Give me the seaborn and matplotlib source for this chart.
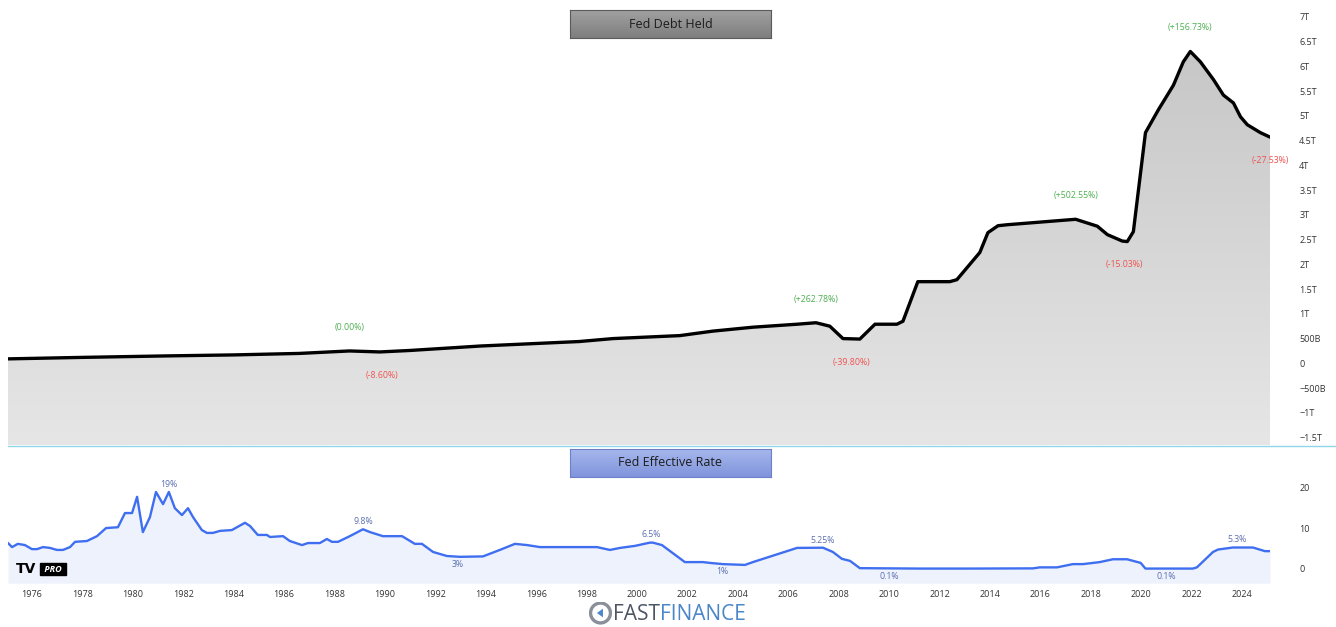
import numpy as np
import pandas as pd
import matplotlib
matplotlib.use("Agg")
import matplotlib.pyplot as plt
import seaborn as sns
from matplotlib.colors import LinearSegmentedColormap
from matplotlib.lines import Line2D
from matplotlib.patches import Circle, Polygon

# Fed debt held (trillions USD)
debt_years = [1975.05, 1978.0, 1981.35, 1984.0, 1986.6, 1988.6, 1989.8, 1991.0, 1993.8,
              1997.7, 1999.05, 2001.7, 2003.0, 2004.6, 2006.35, 2007.1, 2007.65, 2008.17,
              2008.84, 2009.44, 2010.31, 2010.55, 2011.14, 2012.41, 2012.69, 2013.6,
              2013.92, 2014.32, 2014.69, 2017.4, 2018.26, 2018.66, 2019.25, 2019.45,
              2019.69, 2020.17, 2020.68, 2021.28, 2021.67, 2021.95, 2022.35, 2022.87,
              2023.26, 2023.66, 2023.94, 2024.21, 2024.73, 2025.11]
debt_tn = [0.09, 0.12, 0.15, 0.17, 0.20, 0.25, 0.23, 0.26, 0.35,
           0.44, 0.50, 0.56, 0.65, 0.73, 0.79, 0.82, 0.75, 0.50,
           0.49, 0.79, 0.79, 0.85, 1.65, 1.65, 1.69, 2.24,
           2.64, 2.78, 2.80, 2.91, 2.77, 2.60, 2.47, 2.46,
           2.66, 4.66, 5.12, 5.62, 6.09, 6.30, 6.09, 5.73,
           5.42, 5.26, 4.98, 4.82, 4.66, 4.57]

# Fed effective rate (%)
rate_years = [1975.05, 1975.21, 1975.44, 1975.72, 1976.0, 1976.2, 1976.44, 1976.71, 1976.99,
              1977.23, 1977.51, 1977.71, 1978.18, 1978.58, 1978.94, 1979.41, 1979.69, 1979.97,
              1980.17, 1980.40, 1980.68, 1980.92, 1981.2, 1981.43, 1981.67, 1981.95, 1982.19,
              1982.39, 1982.74, 1982.94, 1983.18, 1983.46, 1983.93, 1984.45, 1984.65, 1984.96,
              1985.32, 1985.44, 1985.96, 1986.23, 1986.71, 1986.95, 1987.42, 1987.7, 1987.9,
              1988.14, 1988.61, 1989.13, 1989.41, 1989.92, 1990.68, 1991.19, 1991.47, 1991.91,
              1992.46, 1992.98, 1993.89, 1994.56, 1995.16, 1995.64, 1996.15, 1996.67, 1997.22,
              1998.41, 1998.93, 1999.33, 1999.92, 2000.51, 2000.63, 2000.99, 2001.9, 2002.62,
              2002.89, 2003.41, 2004.28, 2004.6, 2006.35, 2007.38, 2007.77, 2008.13, 2008.45,
              2008.84, 2011.22, 2013.21, 2015.71, 2015.98, 2016.66, 2017.29, 2017.69, 2018.36,
              2018.88, 2019.44, 2019.98, 2020.17, 2022.05, 2022.21, 2022.85, 2023.05, 2023.64,
              2024.43, 2024.91, 2025.11]
rate_pct = [6.4, 5.4, 6.2, 5.9, 4.9, 4.9, 5.4, 5.2, 4.7,
            4.7, 5.4, 6.7, 6.9, 8.1, 10.1, 10.3, 13.8, 13.8,
            17.8, 9.1, 12.8, 19.0, 16.0, 19.0, 15.0, 13.3, 15.0,
            12.8, 9.6, 8.9, 8.9, 9.4, 9.6, 11.4, 10.6, 8.4,
            8.4, 7.9, 8.1, 6.9, 5.9, 6.4, 6.4, 7.4, 6.7,
            6.7, 8.1, 9.8, 9.1, 8.1, 8.1, 6.2, 6.2, 4.2,
            3.2, 3.0, 3.1, 4.7, 6.2, 5.9, 5.4, 5.4, 5.4,
            5.4, 4.7, 5.2, 5.7, 6.5, 6.5, 5.9, 1.7, 1.7,
            1.5, 1.2, 1.0, 1.7, 5.2, 5.25, 4.2, 2.5, 2.0,
            0.2, 0.1, 0.1, 0.15, 0.4, 0.4, 1.2, 1.2, 1.7,
            2.4, 2.4, 1.5, 0.1, 0.1, 0.4, 4.2, 4.8, 5.3,
            5.3, 4.4, 4.4]

debt_ticks = [7, 6.5, 6, 5.5, 5, 4.5, 4, 3.5, 3, 2.5, 2, 1.5, 1, 0.5, 0, -0.5, -1, -1.5]
debt_tick_labels = ["7T", "6.5T", "6T", "5.5T", "5T", "4.5T", "4T", "3.5T", "3T", "2.5T",
                    "2T", "1.5T", "1T", "500B", "0", "\u2212500B", "\u22121T", "\u22121.5T"]
rate_ticks = [0, 10, 20]
year_ticks = list(range(1976, 2025, 2))

debt_note_years = [1988.6, 1989.9, 2007.1, 2008.5, 2017.4, 2019.35, 2021.95, 2025.11]
debt_note_labels = ["(0.00%)", "(-8.60%)", "(+262.78%)", "(-39.80%)",
                    "(+502.55%)", "(-15.03%)", "(+156.73%)", "(-27.53%)"]

rate_note_years = [1981.43, 1989.13, 1992.9, 2000.55, 2003.4, 2007.38, 2010.0, 2021.0, 2023.8]
rate_note_labels = ["19%", "9.8%", "3%", "6.5%", "1%", "5.25%", "0.1%", "0.1%", "5.3%"]
rate_note_high = [True, True, False, True, False, True, False, False, True]

debt = pd.DataFrame({"year": debt_years, "tn": debt_tn})
rate = pd.DataFrame({"year": rate_years, "pct": rate_pct})

sns.set_theme(style="white")
plt.rcParams["font.family"] = ["Open Sans", "DejaVu Sans"]

W, H = 1336, 627
fig = plt.figure(figsize=(W / 100, H / 100), dpi=100)
fig.patch.set_facecolor("white")


def fig_box(x0, y0, x1, y1):
    return [x0 / W, 1 - y1 / H, (x1 - x0) / W, (y1 - y0) / H]


ax1 = fig.add_axes(fig_box(8, 0, 1270, 445))
ax2 = fig.add_axes(fig_box(8, 447, 1270, 583))
x0, x1 = debt.year.min(), debt.year.max()

# --- top panel: debt ---
y_lo, y_hi = -1.65, 7.34
sns.lineplot(data=debt, x="year", y="tn", ax=ax1, color="black", lw=2.4, zorder=3,
             solid_joinstyle="round", solid_capstyle="round")
poly = ax1.fill_between(debt.year, debt.tn, y_lo, color="none", lw=0)
grad = np.linspace(0, 1, 256).reshape(-1, 1)
cmap = LinearSegmentedColormap.from_list("g", ["#e6e6e6", "#c3c3c3"])
im = ax1.imshow(grad, extent=[x0, x1, y_lo, y_hi], aspect="auto", cmap=cmap,
                origin="lower", zorder=1)
im.set_clip_path(poly.get_paths()[0], transform=ax1.transData)
ax1.set_xlim(x0, x1)
ax1.set_ylim(y_lo, y_hi)
ax1.set_yticks(debt_ticks)
ax1.set_yticklabels(debt_tick_labels)
ax1.set_xticks([])

for yr, lab in zip(debt_note_years, debt_note_labels):
    val = np.interp(yr, debt.year, debt.tn)
    up = not lab.startswith("(-")
    ax1.annotate(lab, (yr, val), xytext=(0, 17 if up else -17), textcoords="offset points",
                 ha="center", va="center", fontsize=6.3,
                 color="#4caf50" if up else "#ef5350", annotation_clip=False, zorder=5)

# --- bottom panel: rate ---
sns.lineplot(data=rate, x="year", y="pct", ax=ax2, color="#3f6ff0", lw=1.7, zorder=3,
             solid_joinstyle="round")
ax2.fill_between(rate.year, rate.pct, -3.5, color="#eef2fd", lw=0, zorder=1)
ax2.set_xlim(x0, x1)
ax2.set_ylim(-3.46, 30.1)
ax2.set_yticks(rate_ticks)
ax2.set_xticks(year_ticks)
ax2.set_xticklabels([str(y) for y in year_ticks])

for yr, lab, hi in zip(rate_note_years, rate_note_labels, rate_note_high):
    val = np.interp(yr, rate.year, rate.pct)
    ax2.annotate(lab, (yr, val), xytext=(0, 5.5 if hi else -5.5), textcoords="offset points",
                 ha="center", va="center", fontsize=6.3, color="#5b6fb0", zorder=5)

for ax in (ax1, ax2):
    ax.set_xlabel("")
    ax.set_ylabel("")
    ax.set_facecolor("white")
    ax.yaxis.tick_right()
    ax.tick_params(axis="y", length=0, pad=21, labelsize=6.5, labelcolor="#333333")
    ax.tick_params(axis="x", length=0, pad=5, labelsize=6.5, labelcolor="#333333")
    for s in ax.spines.values():
        s.set_visible(False)

# separator line between panels
fig.add_artist(Line2D([8 / W, 1], [1 - 445.5 / H] * 2, color="#8fd6ea", lw=1.0))


# --- title boxes ---
def title_box(rect, text, c_top, c_bot, edge):
    tax = fig.add_axes(rect)
    g = np.linspace(0, 1, 64).reshape(-1, 1)
    tax.imshow(g, aspect="auto", cmap=LinearSegmentedColormap.from_list("b", [c_bot, c_top]),
               origin="lower", extent=[0, 1, 0, 1])
    tax.set_xticks([])
    tax.set_yticks([])
    for s in tax.spines.values():
        s.set_color(edge)
        s.set_linewidth(0.8)
    tax.text(0.5, 0.5, text, ha="center", va="center", fontsize=9, color="#1c1c1c",
             transform=tax.transAxes)


title_box(fig_box(570, 10, 771, 38), "Fed Debt Held", "#a2a2a2", "#7e7e7e", "#5a5a5a")
title_box(fig_box(570, 449, 771, 477), "Fed Effective Rate", "#a7b7ec", "#7f94dc", "#6c80c8")

# --- TradingView badge ---
fig.text(16 / W, 1 - 569 / H, "TV", fontsize=10, fontweight="black", color="black",
         va="center", ha="left", family="DejaVu Sans")
fig.text(42 / W, 1 - 569 / H, " PRO ", fontsize=6.5, fontweight="bold", color="white",
         va="center", ha="left", style="italic",
         bbox=dict(boxstyle="square,pad=0.2", fc="black", ec="black"))

# --- FastFinance logo ---
lax = fig.add_axes(fig_box(589, 601, 612, 625))
lax.set_xlim(-1.1, 1.1)
lax.set_ylim(-1.1, 1.1)
lax.set_aspect("equal")
lax.axis("off")
lax.add_patch(Circle((0, 0), 0.95, fc="white", ec="#8a8f99", lw=2.4))
lax.add_patch(Polygon([[-0.45, 0.0], [0.3, 0.55], [0.3, -0.55]], closed=True, fc="#4a86c8"))
t1 = fig.text(613 / W, 1 - 614 / H, "FAST", fontsize=15, color="#4d5462",
              va="center", ha="left")
fig.canvas.draw()
bb = t1.get_window_extent()
fig.text(bb.x1 / W, 1 - 614 / H, "FINANCE", fontsize=15, color="#4a86c8",
         va="center", ha="left")

fig.savefig("out.png", dpi=100)
